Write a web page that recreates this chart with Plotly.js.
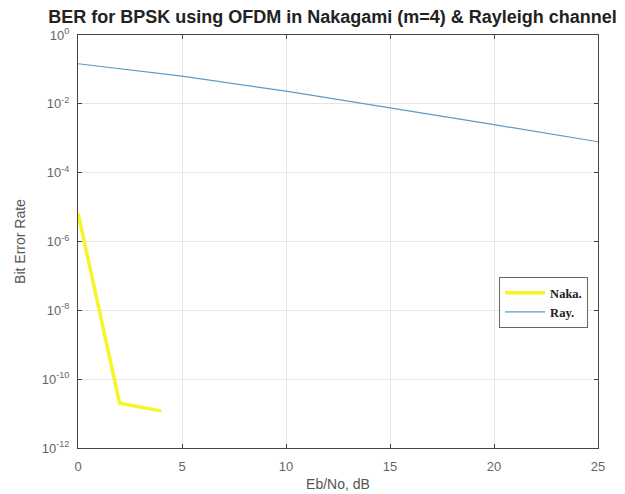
<!DOCTYPE html>
<html><head><meta charset="utf-8">
<script src="https://cdn.plot.ly/plotly-3.0.1.min.js"></script>
<style>html,body{margin:0;padding:0;background:#fff}#chart{width:625px;height:494px}</style>
</head><body><div id="chart"></div>
<script>
const nakaX = [0, 2, 4];
const nakaY = [6.7e-6, 2.0e-11, 1.2e-11];
const rayX = [0, 5, 10, 15, 20, 25];
const rayY = [0.146, 0.064, 0.0233, 0.0077, 0.00248, 0.00079];
const yTickVals = [1, 1e-2, 1e-4, 1e-6, 1e-8, 1e-10, 1e-12];
const yTickText = ['10<sup>0</sup>','10<sup>-2</sup>','10<sup>-4</sup>','10<sup>-6</sup>','10<sup>-8</sup>','10<sup>-10</sup>','10<sup>-12</sup>'];
const xTickVals = [0, 5, 10, 15, 20, 25];

const traces = [
  {x: nakaX, y: nakaY, name: 'Naka.', mode: 'lines', line: {color: '#f5f52a', width: 3.5}},
  {x: rayX, y: rayY, name: 'Ray.', mode: 'lines', line: {color: '#5d9bc9', width: 1.2}}
];
const layout = {
  width: 625, height: 494,
  margin: {l: 78, r: 27, t: 35, b: 46},
  paper_bgcolor: '#fff', plot_bgcolor: '#fff',
  font: {family: 'Liberation Sans, Arial, sans-serif', color: '#555', size: 13},
  title: {text: '<b>BER for BPSK using OFDM in Nakagami (m=4) & Rayleigh channel</b>', x: 0.532, xanchor: 'center', y: 0.966, yanchor: 'middle', font: {size: 18, color: '#222', family: 'Liberation Sans, Arial, sans-serif'}},
  xaxis: {range: [0, 25], tickvals: xTickVals, ticks: 'inside', ticklen: 4, tickcolor: '#444', ticklabelstandoff: 6,
    showgrid: true, gridcolor: '#e6e6e6', zeroline: false, showline: true, linecolor: '#444', linewidth: 1, mirror: 'ticks',
    title: {text: 'Eb/No, dB', standoff: 6, font: {size: 14, color: '#555'}}, tickfont: {size: 13, color: '#666'}},
  yaxis: {type: 'log', range: [-12, 0], tickvals: yTickVals, ticktext: yTickText, ticks: 'inside', ticklen: 4, tickcolor: '#444', ticklabelstandoff: 5,
    showgrid: true, gridcolor: '#e6e6e6', zeroline: false, showline: true, linecolor: '#444', linewidth: 1, mirror: 'ticks',
    title: {text: 'Bit Error Rate', standoff: 12, font: {size: 14, color: '#555'}}, tickfont: {size: 13, color: '#666'}},
  legend: {x: 0.981, xanchor: 'right', y: 0.414, yanchor: 'top', bgcolor: '#fff', bordercolor: '#666', borderwidth: 1,
    font: {family: 'Liberation Serif, Times New Roman, serif', size: 12.5, color: '#222', weight: 'bold'}, tracegroupgap: 0, itemwidth: 40},
  showlegend: true
};
Plotly.newPlot('chart', traces, layout, {displayModeBar: false, staticPlot: true});
</script></body></html>
